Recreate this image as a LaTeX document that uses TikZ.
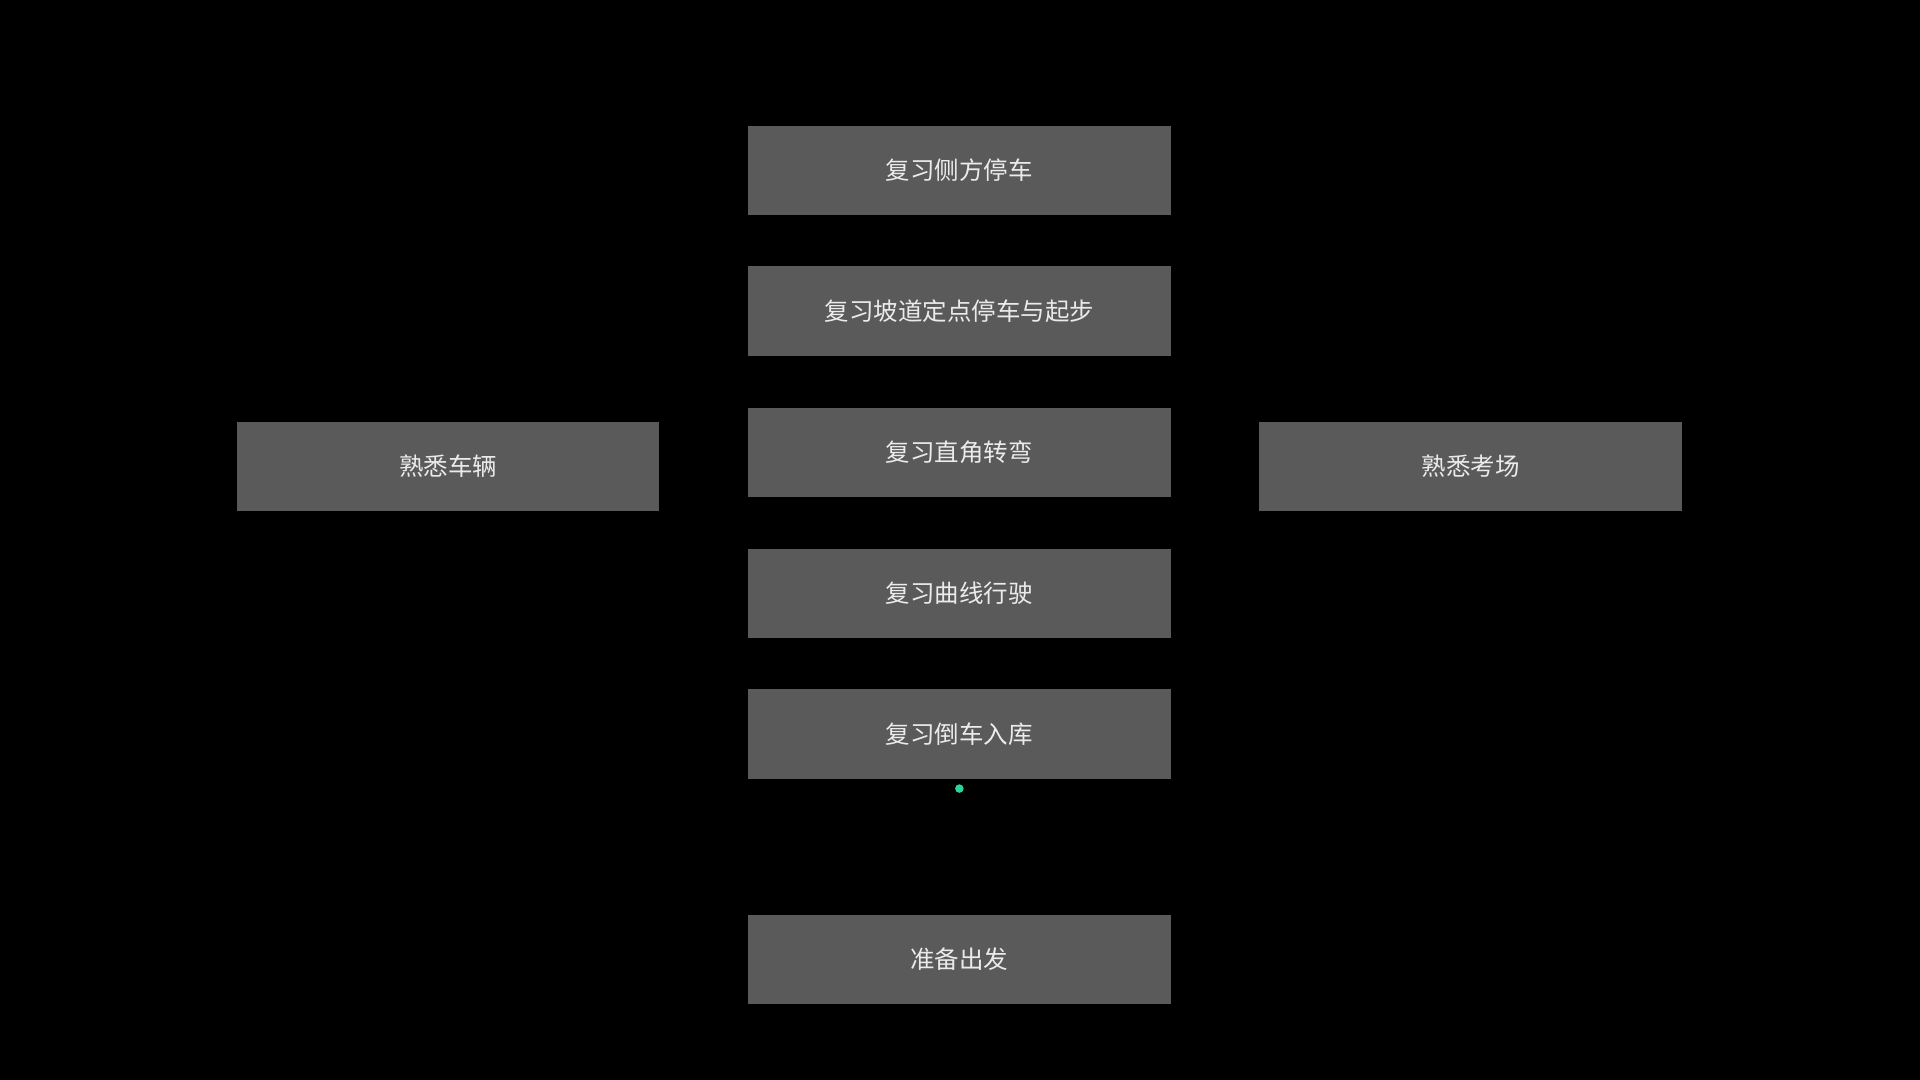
\documentclass[tikz,border=0pt]{standalone}
\usepackage{fontspec}
\newfontfamily\cjk{Noto Sans CJK SC}
\begin{document}
\begin{tikzpicture}[x=1pt,y=-1pt,
  box/.style={fill=boxgray,draw=none,minimum width=345pt,minimum height=73pt,inner sep=0pt,text=white!92!black,font=\cjk\fontsize{20}{24}\selectfont}]
\definecolor{boxgray}{HTML}{5A5A5A}
\definecolor{dotgreen}{HTML}{2ED39C}
\fill[black] (0,0) rectangle (1568,882);
\useasboundingbox (0,0) rectangle (1568,882);
\node[box] (a) at (783.5,139) {复习侧方停车};
\node[box] (b) at (783.5,254) {复习坡道定点停车与起步};
\node[box] (c) at (783.5,369.5) {复习直角转弯};
\node[box] (d) at (783.5,484.5) {复习曲线行驶};
\node[box] (e) at (783.5,599.5) {复习倒车入库};
\node[box] (f) at (783.5,783.5) {准备出发};
\node[box] (l) at (366,381) {熟悉车辆};
\node[box] (r) at (1201,381) {熟悉考场};
\coordinate (g) at (783.5,644);
\fill[dotgreen] (g) circle (3.5);
\end{tikzpicture}
\end{document}
